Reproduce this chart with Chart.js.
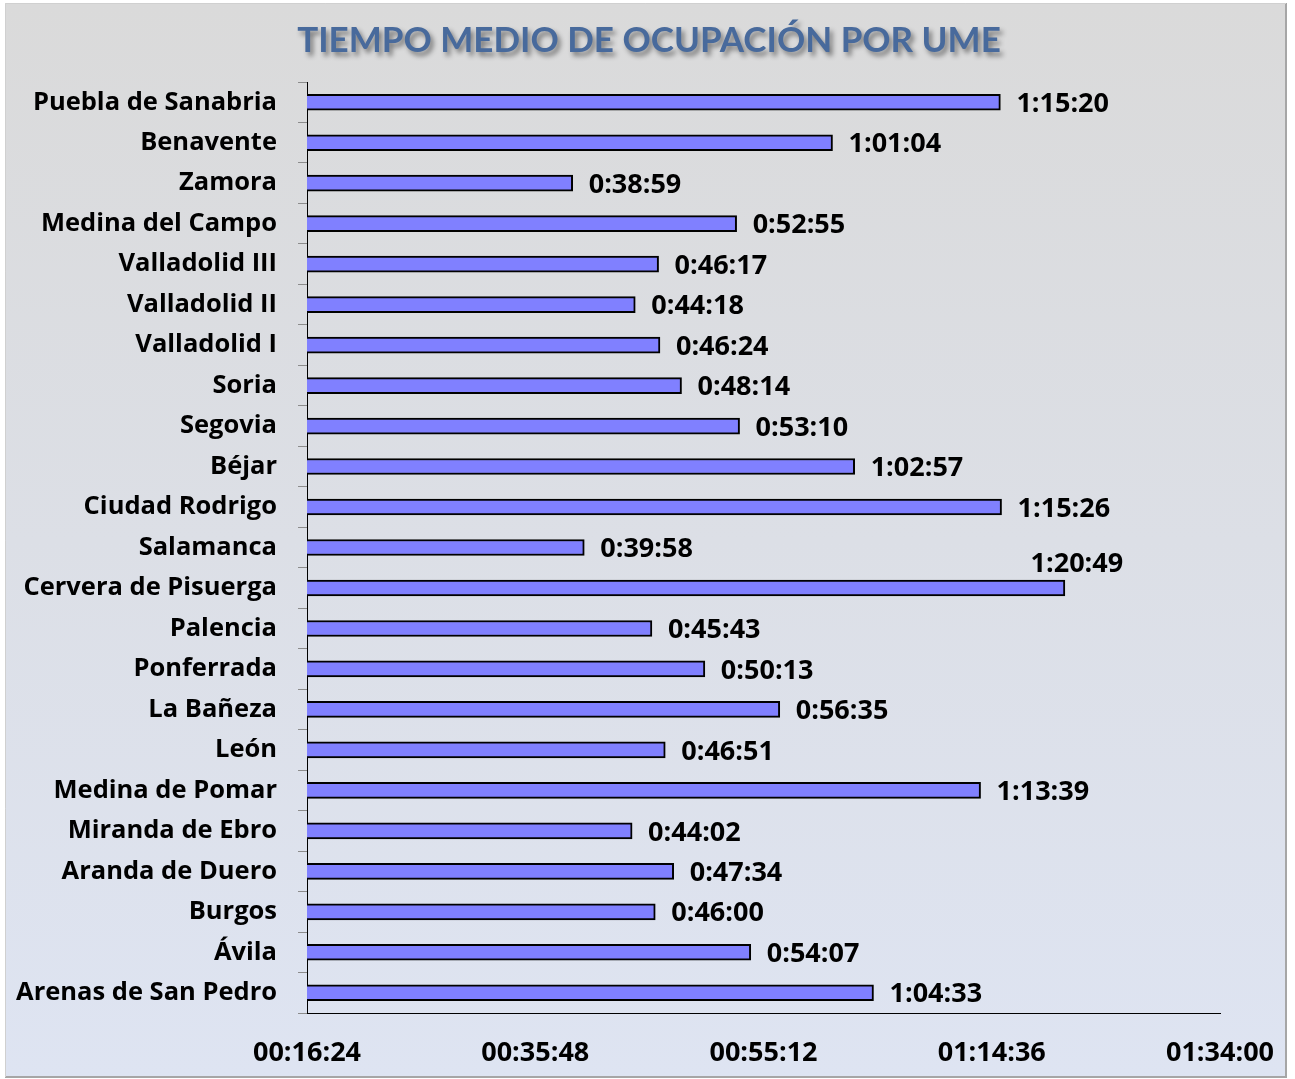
<!DOCTYPE html>
<html>
<head>
<meta charset="utf-8">
<script src="https://cdn.jsdelivr.net/npm/chart.js@4/dist/chart.umd.min.js"></script>
<style>
html,body{margin:0;padding:0;background:#fff;}
#wrap{width:1295px;height:1079px;}
</style>
</head>
<body>
<div id="wrap"><canvas id="c" width="1295" height="1079"></canvas></div>
<script>
const titleText = 'TIEMPO MEDIO DE OCUPACIÓN POR UME';
const categories = ['Puebla de Sanabria','Benavente','Zamora','Medina del Campo','Valladolid III','Valladolid II','Valladolid I','Soria','Segovia','Béjar','Ciudad Rodrigo','Salamanca','Cervera de Pisuerga','Palencia','Ponferrada','La Bañeza','León','Medina de Pomar','Miranda de Ebro','Aranda de Duero','Burgos','Ávila','Arenas de San Pedro'];
const timeValues = ['1:15:20','1:01:04','0:38:59','0:52:55','0:46:17','0:44:18','0:46:24','0:48:14','0:53:10','1:02:57','1:15:26','0:39:58','1:20:49','0:45:43','0:50:13','0:56:35','0:46:51','1:13:39','0:44:02','0:47:34','0:46:00','0:54:07','1:04:33'];
const axisMin = '00:16:24';
const axisMax = '01:34:00';
const axisStep = '00:19:24';

function toSec(s){const p=s.split(':').map(Number);return p[0]*3600+p[1]*60+p[2];}
function pad(n){return String(n).padStart(2,'0');}
function fmtTick(v){const h=Math.floor(v/3600),m=Math.floor((v%3600)/60),s=Math.round(v%60);return pad(h)+':'+pad(m)+':'+pad(s);}
const seconds = timeValues.map(toSec);

const FONT = '"Open Sans"';
const bgPlugin = {
  id:'bg',
  beforeDraw(chart){
    const ctx=chart.ctx, W=chart.width, H=chart.height;
    ctx.save();
    ctx.fillStyle='#ffffff';ctx.fillRect(0,0,W,H);
    const g=ctx.createLinearGradient(0,4,0,1077);
    g.addColorStop(0,'rgb(218,218,218)');
    g.addColorStop(0.5,'rgb(220,223,230)');
    g.addColorStop(1,'rgb(222,228,242)');
    ctx.fillStyle=g;ctx.fillRect(5,3,1281,1074);
    ctx.strokeStyle='#a6a6a6';ctx.lineWidth=2;
    ctx.beginPath();ctx.moveTo(1286,3);ctx.lineTo(1286,1077);ctx.lineTo(5,1077);ctx.stroke();
    ctx.strokeStyle='#d0d0d0';ctx.lineWidth=1;
    ctx.beginPath();ctx.moveTo(5.5,1077);ctx.lineTo(5.5,3.5);ctx.lineTo(1286,3.5);ctx.stroke();
    ctx.restore();
  },
  afterDraw(chart){
    const ctx=chart.ctx;
    ctx.save();
    ctx.font='bold 35px Lato';
    ctx.textAlign='center';ctx.textBaseline='middle';
    ctx.shadowColor='rgba(0,0,0,0.45)';ctx.shadowOffsetX=3;ctx.shadowOffsetY=4;ctx.shadowBlur=5;
    ctx.fillStyle='rgb(72,106,156)';
    ctx.fillText(titleText,649,41);
    ctx.restore();
  }
};
const labelPlugin = {
  id:'vlabels',
  afterDatasetsDraw(chart){
    const ctx=chart.ctx, meta=chart.getDatasetMeta(0);
    ctx.save();
    ctx.font='bold 27px '+FONT;ctx.fillStyle='#000';ctx.textBaseline='middle';
    meta.data.forEach((bar,i)=>{
      const t=timeValues[i];
      if(bar.x>chart.chartArea.right-170){
        ctx.textAlign='center';ctx.fillText(t,bar.x+12,bar.y-24);
      }else{
        ctx.textAlign='left';ctx.fillText(t,bar.x+16,bar.y+2);
      }
    });
    ctx.restore();
  }
};

new Chart(document.getElementById('c'),{
  type:'bar',
  data:{labels:categories,datasets:[{data:seconds,backgroundColor:'#8080ff',borderColor:'#000',borderWidth:2,borderSkipped:false,barThickness:16}]},
  options:{
    indexAxis:'y',responsive:false,animation:false,
    layout:{padding:{left:0,right:75,top:82,bottom:0}},
    plugins:{legend:{display:false},tooltip:{enabled:false},title:{display:false}},
    scales:{
      x:{type:'linear',min:toSec(axisMin),max:toSec(axisMax),
        afterBuildTicks(s){const st=toSec(axisStep);const t=[];for(let v=toSec(axisMin);v<=toSec(axisMax)+1;v+=st)t.push({value:v});s.ticks=t;},
        afterFit(s){s.height=66;s.paddingLeft=0;s.paddingRight=0;},
        grid:{display:false,drawTicks:false},
        border:{display:true,color:'#000',width:1},
        ticks:{padding:24,color:'#000',font:{family:FONT,size:27,weight:'bold'},callback:v=>fmtTick(v),maxRotation:0,autoSkip:false}},
      y:{afterFit(s){s.width=307;s.paddingTop=0;s.paddingBottom=0;},
        grid:{display:true,drawOnChartArea:false,drawTicks:true,tickLength:9,color:'#8c8c8c',offset:true},
        border:{display:true,color:'#000',width:1},
        ticks:{padding:21,color:'#000',font:{family:FONT,size:25.5,weight:'bold'},autoSkip:false}}
    }
  },
  plugins:[bgPlugin,labelPlugin]
});
</script>
</body>
</html>
